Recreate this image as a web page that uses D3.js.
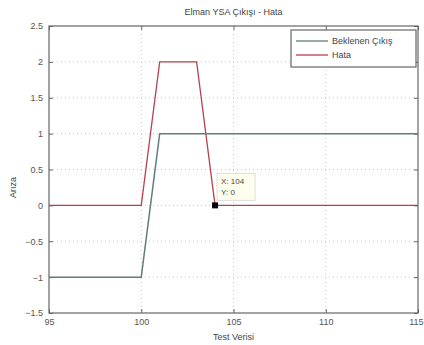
<!DOCTYPE html>
<html>
<head>
<meta charset="utf-8">
<script src="https://cdn.jsdelivr.net/npm/d3@7"></script>
<style>
  body { margin: 0; background: #fff; }
  svg { font-family: "Liberation Sans", Arial, sans-serif; }
  .tick text { fill: #555; font-size: 9px; }
</style>
</head>
<body>
<svg id="chart" width="424" height="345"></svg>
<script>
// data
const testX = [95, 96, 97, 98, 99, 100, 101, 102, 103, 104, 105, 106, 107, 108, 109, 110, 111, 112, 113, 114, 115];
const beklenen = [-1, -1, -1, -1, -1, -1, 1, 1, 1, 1, 1, 1, 1, 1, 1, 1, 1, 1, 1, 1, 1];
const hata = [0, 0, 0, 0, 0, 0, 2, 2, 2, 0, 0, 0, 0, 0, 0, 0, 0, 0, 0, 0, 0];
const xTicks = [95, 100, 105, 110, 115];
const yTicks = [-1.5, -1, -0.5, 0, 0.5, 1, 1.5, 2, 2.5];
const tipPoint = { x: 104, y: 0 };

const margin = {top: 26, right: 6, bottom: 32, left: 49},
  width = 424 - margin.left - margin.right,
  height = 345 - margin.top - margin.bottom;

const x = d3.scaleLinear().domain([95, 115]).range([0, width]);
const y = d3.scaleLinear().domain([-1.5, 2.5]).range([height, 0]);

const svg = d3.select('#chart')
  .append('g')
  .attr('transform', 'translate(' + margin.left + ',' + margin.top + ')');

// grid
svg.append('g').selectAll('line.gx')
  .data(xTicks.slice(1, -1)).enter().append('line')
  .attr('x1', d => x(d)).attr('x2', d => x(d))
  .attr('y1', 0).attr('y2', height)
  .attr('stroke', '#c8c8c8').attr('stroke-dasharray', '1,3');
svg.append('g').selectAll('line.gy')
  .data(yTicks.slice(1, -1)).enter().append('line')
  .attr('x1', 0).attr('x2', width)
  .attr('y1', d => y(d)).attr('y2', d => y(d))
  .attr('stroke', '#c8c8c8').attr('stroke-dasharray', '1,3');

// axes
const xAxis = d3.axisBottom(x).tickValues(xTicks).tickSize(-4).tickPadding(6).tickFormat(d3.format('d'));
const yAxis = d3.axisLeft(y).tickValues(yTicks).tickSize(-4).tickPadding(6).tickFormat(d => d3.format('')(d));

svg.append('g').attr('transform', 'translate(0,' + height + ')').call(xAxis)
  .call(g => g.select('.domain').remove())
  .call(g => g.selectAll('.tick line').attr('stroke', '#666'))
  // last label sits at the right edge, keep it inside the window
  .call(g => g.selectAll('.tick text').filter(d => d === 115).attr('text-anchor', 'end').attr('dx', 5));
svg.append('g').call(yAxis)
  .call(g => g.select('.domain').remove())
  .call(g => g.selectAll('.tick line').attr('stroke', '#666'));
// top/right ticks
svg.append('g').call(d3.axisTop(x).tickValues(xTicks).tickSize(-4).tickFormat(''))
  .call(g => g.select('.domain').remove())
  .call(g => g.selectAll('.tick line').attr('stroke', '#666'));
svg.append('g').attr('transform', 'translate(' + width + ',0)')
  .call(d3.axisRight(y).tickValues(yTicks).tickSize(-4).tickFormat(''))
  .call(g => g.select('.domain').remove())
  .call(g => g.selectAll('.tick line').attr('stroke', '#666'));

svg.append('rect')
  .attr('width', width).attr('height', height)
  .attr('fill', 'none').attr('stroke', '#666').attr('stroke-width', 1.2);

// lines
const line = d3.line().x(d => x(d[0])).y(d => y(d[1]));
svg.append('path')
  .datum(testX.map((d, i) => [d, hata[i]]))
  .attr('d', line).attr('fill', 'none')
  .attr('stroke', '#b8404f').attr('stroke-width', 1.3);
svg.append('path')
  .datum(testX.map((d, i) => [d, beklenen[i]]))
  .attr('d', line).attr('fill', 'none')
  .attr('stroke', '#5f7f78').attr('stroke-width', 1.5);

// datatip
svg.append('rect')
  .attr('x', x(tipPoint.x) - 3).attr('y', y(tipPoint.y) - 3)
  .attr('width', 6).attr('height', 6).attr('fill', '#000');
const tip = svg.append('g')
  .attr('transform', 'translate(' + (x(tipPoint.x) + 2) + ',' + (y(tipPoint.y) - 32) + ')');
tip.append('rect')
  .attr('width', 38).attr('height', 27)
  .attr('fill', '#fffff0').attr('stroke', '#ddd');
tip.append('text').attr('x', 4).attr('y', 11)
  .attr('font-size', 8).attr('fill', '#444').text('X: ' + tipPoint.x);
tip.append('text').attr('x', 4).attr('y', 22)
  .attr('font-size', 8).attr('fill', '#444').text('Y: ' + tipPoint.y);

// legend
const legend = svg.append('g').attr('transform', 'translate(' + (width - 127) + ',4)');
legend.append('rect')
  .attr('width', 125).attr('height', 37)
  .attr('fill', '#fff').attr('stroke', '#666').attr('stroke-width', 1.2);
const legendItems = [
  { name: 'Beklenen Çıkış', color: '#5f7f78' },
  { name: 'Hata', color: '#b8404f' }
];
legendItems.forEach((e, i) => {
  legend.append('line')
    .attr('x1', 5).attr('x2', 37)
    .attr('y1', 11 + i * 14).attr('y2', 11 + i * 14)
    .attr('stroke', e.color).attr('stroke-width', 1.3);
  legend.append('text')
    .attr('x', 41).attr('y', 14 + i * 14)
    .attr('font-size', 9).attr('fill', '#444').text(e.name);
});

// labels
d3.select('#chart').append('text')
  .attr('x', margin.left + width / 2).attr('y', 15)
  .attr('text-anchor', 'middle').attr('font-size', 9).attr('fill', '#444')
  .text('Elman YSA Çıkışı - Hata');
d3.select('#chart').append('text')
  .attr('x', margin.left + width / 2).attr('y', 340)
  .attr('text-anchor', 'middle').attr('font-size', 9).attr('fill', '#444')
  .text('Test Verisi');
d3.select('#chart').append('text')
  .attr('transform', 'translate(16,' + (margin.top + y(0.25)) + ') rotate(-90)')
  .attr('text-anchor', 'middle').attr('font-size', 9).attr('fill', '#444')
  .text('Arıza');
</script>
</body>
</html>
